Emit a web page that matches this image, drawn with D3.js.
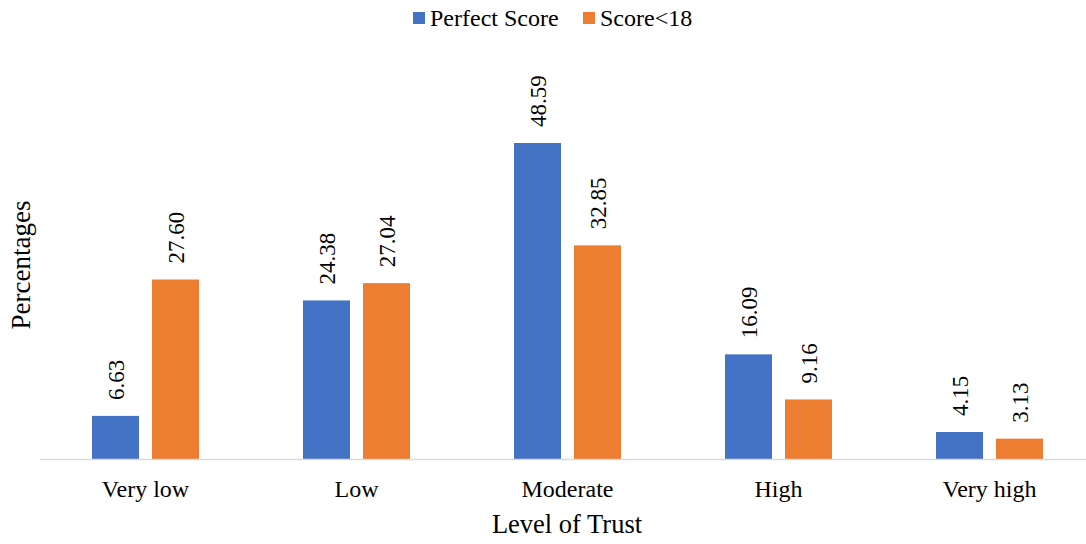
<!DOCTYPE html>
<html>
<head>
<meta charset="utf-8">
<script src="https://cdn.jsdelivr.net/npm/d3@7"></script>
<style>
  html, body { margin: 0; padding: 0; background: #fff; }
  svg text { font-family: "Liberation Serif", "Times New Roman", Times, serif; fill: #000; }
</style>
</head>
<body>
<svg id="chart" width="1086" height="544"></svg>
<script>
// Trust level categories and the share of respondents in each group
const categories = ["Very low", "Low", "Moderate", "High", "Very high"];
const seriesNames = ["Perfect Score", "Score<18"];
const perfectScore = [6.63, 24.38, 48.59, 16.09, 4.15];
const scoreBelow18 = [27.60, 27.04, 32.85, 9.16, 3.13];
const colors = ["#4472C4", "#ED7D31"];

const svg = d3.select("#chart");
const baseY = 459;
const topY = 143;

const x = d3.scaleBand().domain(categories).range([40, 1095]).paddingInner(0).paddingOuter(0);
const x1 = d3.scaleBand().domain(seriesNames).range([0, 107]).paddingInner(13 / 60);
const y = d3.scaleLinear().domain([0, 48.59]).range([baseY, topY]);

const rows = categories.map((c, i) => ({ cat: c, vals: [perfectScore[i], scoreBelow18[i]] }));

const groups = svg.selectAll("g.cat").data(rows).join("g")
  .attr("class", "cat")
  .attr("transform", d => `translate(${x(d.cat) + (x.bandwidth() - 107) / 2},0)`);

groups.selectAll("rect").data(d => d.vals.map((v, j) => ({ v, s: seriesNames[j], j })))
  .join("rect")
  .attr("x", d => x1(d.s))
  .attr("width", x1.bandwidth())
  .attr("y", d => y(d.v))
  .attr("height", d => baseY - y(d.v))
  .attr("fill", d => colors[d.j]);

// value labels, rotated above each bar
groups.selectAll("text.val").data(d => d.vals.map((v, j) => ({ v, s: seriesNames[j] })))
  .join("text")
  .attr("class", "val")
  .attr("transform", d => `translate(${x1(d.s) + x1.bandwidth() / 2 + 8},${y(d.v) - 16}) rotate(-90)`)
  .attr("font-size", 23)
  .text(d => d.v.toFixed(2));

// baseline
svg.append("line")
  .attr("x1", 40).attr("x2", 1086)
  .attr("y1", baseY + 0.5).attr("y2", baseY + 0.5)
  .attr("stroke", "#D9D9D9").attr("stroke-width", 1.5);

// category labels
svg.selectAll("text.cat").data(categories).join("text")
  .attr("class", "cat")
  .attr("x", d => x(d) + x.bandwidth() / 2)
  .attr("y", 497)
  .attr("text-anchor", "middle")
  .attr("font-size", 24)
  .text(d => d);

// axis titles
svg.append("text")
  .attr("x", 567).attr("y", 533)
  .attr("text-anchor", "middle")
  .attr("font-size", 26.5)
  .text("Level of Trust");

svg.append("text")
  .attr("transform", "translate(30,265) rotate(-90)")
  .attr("text-anchor", "middle")
  .attr("font-size", 27)
  .text("Percentages");

// legend
const legendX = [413, 583];
const legend = svg.selectAll("g.leg").data(seriesNames).join("g")
  .attr("class", "leg")
  .attr("transform", (d, i) => `translate(${legendX[i]},12)`);
legend.append("rect").attr("width", 12).attr("height", 12).attr("fill", (d, i) => colors[i]);
legend.append("text").attr("x", 17).attr("y", 14).attr("font-size", 24).text(d => d);
</script>
</body>
</html>
